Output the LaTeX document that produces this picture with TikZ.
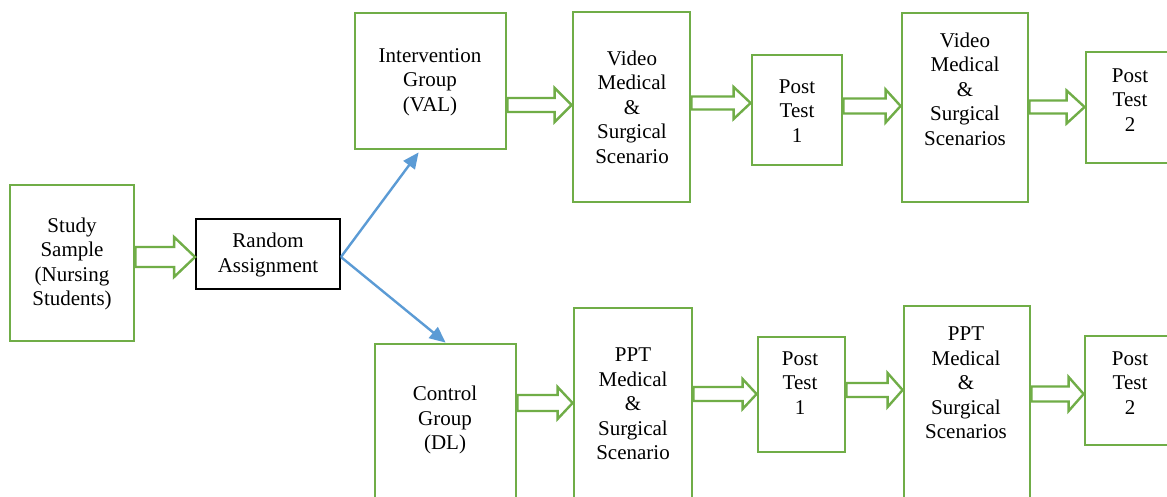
\documentclass[tikz,border=0pt]{standalone}
\usepackage{fontspec}
\setmainfont{Liberation Serif}
\usetikzlibrary{calc,fit,arrows.meta}

\definecolor{boxgreen}{HTML}{70AD47}
\definecolor{linkblue}{HTML}{5B9BD5}

% box with corners (x1,y1) and (x2,y2)
\newcommand\flowbox[6][gbox]{%
  \node[#1, fit={(#3,#4) (#5,#6)}] (#2) {};}

% hollow block arrow: from, to, centre y, shaft half-height, head half-height, head length
\newcommand\blockarrow[6]{%
  \draw[barrow] let \p1=(#1.east), \p2=(#2.west), \p3=(0,#3) in
    (\x1,\y3+#4pt) -- (\x2-#6pt,\y3+#4pt) -- (\x2-#6pt,\y3+#5pt) -- (\x2,\y3)
    -- (\x2-#6pt,\y3-#5pt) -- (\x2-#6pt,\y3-#4pt) -- (\x1,\y3-#4pt) -- cycle;}

\begin{document}
\begin{tikzpicture}[x=1pt,y=-1pt,
  gbox/.style={draw=boxgreen, line width=2.8pt, inner sep=0pt, fill=white},
  kbox/.style={draw=black, line width=1.9pt, inner sep=0pt, fill=white},
  lbl/.style={align=center, inner sep=0pt, font=\fontsize{21}{24.5}\selectfont},
  barrow/.style={draw=boxgreen, line width=2.4pt, fill=white, line join=miter},
  link/.style={draw=linkblue, line width=2.4pt, -{Triangle[length=16pt,width=14pt]}}]

\useasboundingbox (0,0) rectangle (1167,496);
\clip (0,0) rectangle (1167,496);
\fill[white] (0,0) rectangle (1167,496);

% boxes
\flowbox{study}{10}{185}{134}{341}
\flowbox[kbox]{rand}{196}{219}{340}{289}
\flowbox{interv}{355}{13}{506}{149}
\flowbox{vidA}{573}{12}{690}{202}
\flowbox{postA}{752}{55}{842}{165}
\flowbox{vidB}{902}{13}{1028}{202}
\flowbox{postB}{1086}{52}{1178}{163}
\flowbox{ctrl}{375}{344}{516}{530}
\flowbox{pptA}{574}{308}{692}{530}
\flowbox{postC}{758}{337}{845}{452}
\flowbox{pptB}{904}{306}{1030}{530}
\flowbox{postD}{1085}{336}{1178}{445}

% labels
\node[lbl] (tstudy) at (72,264) {Study\\Sample\\(Nursing\\Students)};
\node[lbl] (trand) at (268,255) {Random\\Assignment};
\node[lbl] (tinterv) at (430,82) {Intervention\\Group\\(VAL)};
\node[lbl] (tvidA) at (632,107) {Video\\Medical\\\&\\Surgical\\Scenario};
\node[lbl] (tpostA) at (797,111) {Post\\Test\\1};
\node[lbl] (tvidB) at (965,89) {Video\\Medical\\\&\\Surgical\\Scenarios};
\node[lbl] (tpostB) at (1130,100) {Post\\Test\\2};
\node[lbl] (tctrl) at (445,420) {Control\\Group\\(DL)};
\node[lbl] (tpptA) at (633,404) {PPT\\Medical\\\&\\Surgical\\Scenario};
\node[lbl] (tpostC) at (800,383) {Post\\Test\\1};
\node[lbl] (tpptB) at (966,383) {PPT\\Medical\\\&\\Surgical\\Scenarios};
\node[lbl] (tpostD) at (1130,383) {Post\\Test\\2};

% block arrows
\blockarrow{study}{rand}{257}{10}{20}{21}
\blockarrow{interv}{vidA}{105}{7}{17}{17}
\blockarrow{vidA}{postA}{103}{6.5}{16}{17}
\blockarrow{postA}{vidB}{106}{7.5}{16.5}{15}
\blockarrow{vidB}{postB}{107}{6.5}{16.5}{18}
\blockarrow{ctrl}{pptA}{403}{8}{16}{15}
\blockarrow{pptA}{postC}{394}{7}{15}{14}
\blockarrow{postC}{pptB}{390}{7}{17}{15}
\blockarrow{pptB}{postD}{394}{7.5}{17}{15}

% random assignment links
\draw[link] ($(rand.east)+(0,3)$) -- ($(interv.south west)+(65,2)$);
\draw[link] ($(rand.east)+(0,3)$) -- ($(ctrl.north west)+(72,0)$);
\end{tikzpicture}
\end{document}
